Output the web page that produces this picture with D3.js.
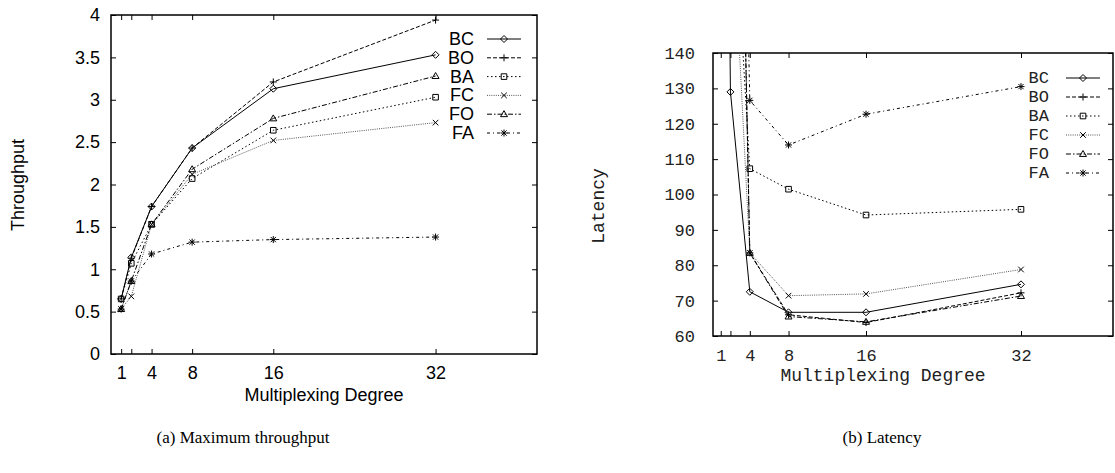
<!DOCTYPE html>
<html>
<head>
<meta charset="utf-8">
<script src="https://cdn.jsdelivr.net/npm/d3@7"></script>
<style>
  body { margin: 0; background: #fff; }
  svg { display: block; }
</style>
</head>
<body>
<svg id="fig" width="1115" height="473"></svg>
<script>
// multiplexing degrees on the x axis
const degrees = [1, 2, 4, 8, 16, 32];
const xTickLabels = [1, 4, 8, 16, 32];
const seriesNames = ['BC', 'BO', 'BA', 'FC', 'FO', 'FA'];

// (a) maximum throughput
const throughputBC = [0.65, 1.14, 1.74, 2.43, 3.13, 3.53];
const throughputBO = [0.65, 1.13, 1.74, 2.43, 3.21, 3.94];
const throughputBA = [0.65, 1.07, 1.53, 2.07, 2.64, 3.03];
const throughputFC = [0.53, 0.68, 1.53, 2.12, 2.52, 2.73];
const throughputFO = [0.53, 0.86, 1.53, 2.18, 2.78, 3.28];
const throughputFA = [0.53, 0.86, 1.18, 1.32, 1.35, 1.38];
const throughputTicks = [0, 0.5, 1, 1.5, 2, 2.5, 3, 3.5, 4];

// (b) latency (values at degree 1 and 2 run off the top of the plot)
const latencyBC = [400, 129, 72.5, 66.7, 66.7, 74.6];
const latencyBO = [900, 350, 83.5, 66.0, 63.8, 72.2];
const latencyBA = [900, 200, 107.3, 101.5, 94.2, 95.8];
const latencyFC = [900, 190, 83.5, 71.4, 71.9, 78.8];
const latencyFO = [900, 350, 83.5, 65.5, 64.0, 71.3];
const latencyFA = [900, 380, 126.6, 114.0, 122.7, 130.5];
const latencyTicks = [60, 70, 80, 90, 100, 110, 120, 130, 140];

// gnuplot-like line types, one per series
const styles = {
    BC: { dash: null, color: '#000', mark: 'diamond' },
    BO: { dash: '4,2', color: '#000', mark: 'plus' },
    BA: { dash: '1.5,2.5', color: '#000', mark: 'square' },
    FC: { dash: '1,1.2', color: '#555', mark: 'cross' },
    FO: { dash: '5,2,1.5,2', color: '#000', mark: 'triangle' },
    FA: { dash: '3,3,1,3', color: '#000', mark: 'star' }
};

function markPath(kind, r) {
    switch (kind) {
        case 'diamond': return `M0,${-r}L${r},0L0,${r}L${-r},0Z`;
        case 'plus': return `M${-r},0H${r}M0,${-r}V${r}`;
        case 'square': { const s = r * 0.8; return `M${-s},${-s}H${s}V${s}H${-s}Z`; }
        case 'cross': { const s = r * 0.8; return `M${-s},${-s}L${s},${s}M${-s},${s}L${s},${-s}`; }
        case 'triangle': return `M0,${-r}L${r},${r * 0.7}L${-r},${r * 0.7}Z`;
        case 'star': { const s = r * 0.75; return `M${-r},0H${r}M0,${-r}V${r}M${-s},${-s}L${s},${s}M${-s},${s}L${s},${-s}`; }
    }
}

const svg = d3.select('#fig');

function drawPanel(p) {
    const g = svg.append('g');
    const x = d3.scaleLinear().domain(p.xDomain).range([p.left, p.right]);
    const y = d3.scaleLinear().domain(p.yDomain).range([p.bottom, p.top]);

    const fontAttrs = sel => sel.attr('font-family', p.font).attr('font-size', p.fontSize).attr('fill', p.textColor);

    const clipId = 'clip-' + p.id;
    svg.append('clipPath').attr('id', clipId)
        .append('rect')
        .attr('x', p.left).attr('y', p.top)
        .attr('width', p.right - p.left).attr('height', p.bottom - p.top);

    // ticks all around, pointing inward
    const yAxis = g.append('g').attr('transform', `translate(${p.left},0)`)
        .call(d3.axisLeft(y).tickValues(p.yTicks).tickSize(-5).tickPadding(p.yPad).tickFormat(p.yFormat));
    const yAxisR = g.append('g').attr('transform', `translate(${p.right},0)`)
        .call(d3.axisRight(y).tickValues(p.yTicks).tickSize(-5).tickFormat(''));
    const xAxis = g.append('g').attr('transform', `translate(0,${p.bottom})`)
        .call(d3.axisBottom(x).tickValues(degrees).tickSize(-5).tickPadding(p.xPad)
            .tickFormat(d => xTickLabels.includes(d) ? d : ''));
    const xAxisT = g.append('g').attr('transform', `translate(0,${p.top})`)
        .call(d3.axisTop(x).tickValues(degrees).tickSize(-5).tickFormat(''));

    [yAxis, yAxisR, xAxis, xAxisT].forEach(a => {
        a.select('.domain').remove();
        a.selectAll('.tick line').attr('stroke', '#000').attr('stroke-width', 1);
        a.selectAll('.tick text').call(fontAttrs);
        a.attr('font-family', null).attr('font-size', null);
    });

    g.append('rect')
        .attr('x', p.left).attr('y', p.top)
        .attr('width', p.right - p.left).attr('height', p.bottom - p.top)
        .attr('fill', 'none').attr('stroke', '#000').attr('stroke-width', 1.5);

    // series
    const line = d3.line().x((d, i) => x(degrees[i])).y(d => y(d));
    const plot = g.append('g').attr('clip-path', `url(#${clipId})`);
    p.series.forEach((vals, k) => {
        const st = styles[seriesNames[k]];
        plot.append('path')
            .attr('d', line(vals))
            .attr('fill', 'none')
            .attr('stroke', st.color)
            .attr('stroke-width', 1)
            .attr('stroke-dasharray', st.dash);
        plot.selectAll(null)
            .data(vals)
            .enter()
            .append('path')
            .attr('transform', (d, i) => `translate(${x(degrees[i])},${y(d)})`)
            .attr('d', markPath(st.mark, 3.5))
            .attr('fill', 'none')
            .attr('stroke', '#000')
            .attr('stroke-width', 1);
    });

    // legend
    const leg = g.append('g');
    seriesNames.forEach((name, k) => {
        const st = styles[name];
        const ly = p.legendY + k * p.legendStep;
        leg.append('text')
            .attr('x', p.legendTextX).attr('y', ly)
            .attr('text-anchor', 'end')
            .attr('dominant-baseline', 'central')
            .call(fontAttrs)
            .text(name);
        leg.append('line')
            .attr('x1', p.legendLine[0]).attr('x2', p.legendLine[1])
            .attr('y1', ly).attr('y2', ly)
            .attr('stroke', st.color).attr('stroke-width', 1)
            .attr('stroke-dasharray', st.dash);
        leg.append('path')
            .attr('transform', `translate(${(p.legendLine[0] + p.legendLine[1]) / 2},${ly})`)
            .attr('d', markPath(st.mark, 3.5))
            .attr('fill', 'none').attr('stroke', '#000');
    });

    // axis titles
    g.append('text')
        .attr('transform', `translate(${p.yLabelPos[0]},${p.yLabelPos[1]}) rotate(-90)`)
        .attr('text-anchor', 'middle')
        .attr('dominant-baseline', 'central')
        .call(fontAttrs)
        .attr('font-size', p.titleSize)
        .text(p.yLabel);
    g.append('text')
        .attr('x', p.xLabelPos[0]).attr('y', p.xLabelPos[1])
        .attr('text-anchor', 'middle')
        .call(fontAttrs)
        .attr('font-size', p.titleSize)
        .text('Multiplexing Degree');

    svg.append('text')
        .attr('x', p.captionX).attr('y', 443)
        .attr('text-anchor', 'middle')
        .attr('font-family', 'Liberation Serif')
        .attr('font-size', 17)
        .text(p.caption);
}

drawPanel({
    id: 'a',
    left: 111, right: 537, top: 15, bottom: 354,
    xDomain: [0, 42], yDomain: [0, 4],
    yTicks: throughputTicks, yFormat: d => d, yPad: 11, xPad: 12,
    font: 'Liberation Sans', fontSize: 18, titleSize: 18, textColor: '#000',
    series: [throughputBC, throughputBO, throughputBA, throughputFC, throughputFO, throughputFA],
    legendTextX: 474, legendY: 39, legendStep: 18.8, legendLine: [487, 521],
    yLabel: 'Throughput', yLabelPos: [18, 185],
    xLabelPos: [324, 401],
    caption: '(a) Maximum throughput', captionX: 243
});

drawPanel({
    id: 'b',
    left: 713, right: 1113, top: 53, bottom: 336,
    xDomain: [0.2, 41.5], yDomain: [60, 140],
    yTicks: latencyTicks, yFormat: d => d, yPad: 18, xPad: 13,
    font: 'Liberation Mono', fontSize: 17, titleSize: 18, textColor: '#222',
    series: [latencyBC, latencyBO, latencyBA, latencyFC, latencyFO, latencyFA],
    legendTextX: 1049, legendY: 78, legendStep: 19, legendLine: [1066, 1100],
    yLabel: 'Latency', yLabelPos: [599, 206],
    xLabelPos: [883, 381],
    caption: '(b) Latency', captionX: 882
});
</script>
</body>
</html>
